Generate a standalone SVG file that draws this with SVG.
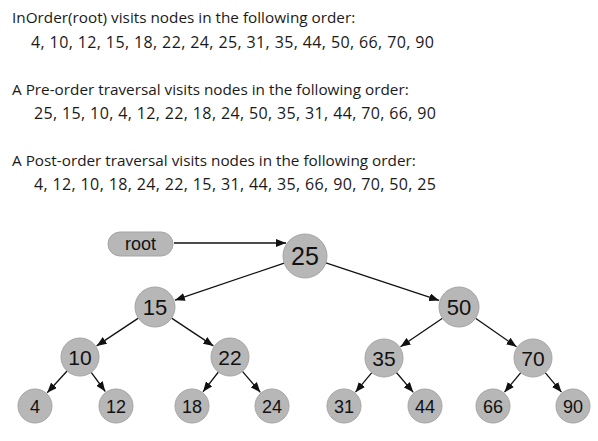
<svg xmlns="http://www.w3.org/2000/svg" width="598" height="441" viewBox="0 0 598 441">
<style>
.t{font-family:"Open Sans","Liberation Sans",sans-serif;font-size:15.3px;fill:#1a1a1a}
.v{font-family:"Open Sans","Liberation Sans",sans-serif;font-size:16px;fill:#1a1a1a}
.n{fill:#b7b7b7;stroke:#a5a5a5;stroke-width:1}
.l{font-family:"Liberation Sans",Arial,sans-serif;fill:#111;text-anchor:middle}
.e{stroke:#111;stroke-width:1.3;fill:none;marker-end:url(#ah)}
</style>
<defs>
<marker id="ah" markerUnits="userSpaceOnUse" markerWidth="10" markerHeight="8" refX="10" refY="4" orient="auto">
<path d="M0,0 L10,4 L0,8 Z" fill="#111"/>
</marker>
</defs>
<rect width="598" height="441" fill="#fff"/>
<g id="text">
<text class="t" x="12" y="23">InOrder(root) visits nodes in the following order:</text>
<text class="v" x="31" y="48" textLength="403" lengthAdjust="spacing">4, 10, 12, 15, 18, 22, 24, 25, 31, 35, 44, 50, 66, 70, 90</text>
<text class="t" x="12" y="95">A Pre-order traversal visits nodes in the following order:</text>
<text class="v" x="34" y="119" textLength="402" lengthAdjust="spacing">25, 15, 10, 4, 12, 22, 18, 24, 50, 35, 31, 44, 70, 66, 90</text>
<text class="t" x="12" y="166">A Post-order traversal visits nodes in the following order:</text>
<text class="v" x="34" y="190" textLength="402" lengthAdjust="spacing">4, 12, 10, 18, 24, 22, 15, 31, 44, 35, 66, 90, 70, 50, 25</text>
</g>
<g id="connectors">
<line class="e" x1="174" y1="243" x2="286" y2="243"/>
<line class="e" x1="284.2" y1="263.1" x2="174.9" y2="300.2"/>
<line class="e" x1="325.9" y1="262.9" x2="439.1" y2="300.4"/>
<line class="e" x1="138.4" y1="318.1" x2="96.6" y2="345.9"/>
<line class="e" x1="171.6" y1="318.1" x2="213.4" y2="345.9"/>
<line class="e" x1="442.5" y1="318.2" x2="400.5" y2="346.8"/>
<line class="e" x1="475.5" y1="318.3" x2="516.5" y2="346.7"/>
<line class="e" x1="67.1" y1="371" x2="47.2" y2="392.7"/>
<line class="e" x1="91.2" y1="372.3" x2="105.3" y2="391.5"/>
<line class="e" x1="218.4" y1="372" x2="203" y2="391.8"/>
<line class="e" x1="242.4" y1="371.4" x2="260.3" y2="392.3"/>
<line class="e" x1="371.8" y1="372.6" x2="355.5" y2="392.2"/>
<line class="e" x1="396.4" y1="372.5" x2="413.3" y2="392.3"/>
<line class="e" x1="520.8" y1="372.6" x2="504.5" y2="392.2"/>
<line class="e" x1="545.2" y1="372.6" x2="561.5" y2="392.2"/>
</g>
<g id="node-root"><rect class="n" x="108" y="232" width="65" height="24" rx="12"/><text class="l" x="140.5" y="250" font-size="18">root</text></g>
<g id="node-25"><circle class="n" cx="305" cy="256" r="22"/><text class="l" x="305" y="265" font-size="25">25</text></g>
<g id="node-15"><circle class="n" cx="155" cy="307" r="20"/><text class="l" x="155" y="315" font-size="22">15</text></g>
<g id="node-50"><circle class="n" cx="459" cy="307" r="20"/><text class="l" x="459" y="315" font-size="22">50</text></g>
<g id="node-10"><circle class="n" cx="80" cy="357" r="19"/><text class="l" x="80" y="364.5" font-size="21">10</text></g>
<g id="node-22"><circle class="n" cx="230" cy="357" r="19"/><text class="l" x="230" y="364.5" font-size="21">22</text></g>
<g id="node-35"><circle class="n" cx="384" cy="358" r="19"/><text class="l" x="384" y="365.5" font-size="21">35</text></g>
<g id="node-70"><circle class="n" cx="533" cy="358" r="19"/><text class="l" x="533" y="365.5" font-size="21">70</text></g>
<g id="node-4"><circle class="n" cx="35" cy="406" r="17"/><text class="l" x="35" y="412.5" font-size="18">4</text></g>
<g id="node-12"><circle class="n" cx="116" cy="406" r="17"/><text class="l" x="116" y="412.5" font-size="18">12</text></g>
<g id="node-18"><circle class="n" cx="192" cy="406" r="17"/><text class="l" x="192" y="412.5" font-size="18">18</text></g>
<g id="node-24"><circle class="n" cx="272" cy="406" r="17"/><text class="l" x="272" y="412.5" font-size="18">24</text></g>
<g id="node-31"><circle class="n" cx="344" cy="406" r="17"/><text class="l" x="344" y="412.5" font-size="18">31</text></g>
<g id="node-44"><circle class="n" cx="425" cy="406" r="17"/><text class="l" x="425" y="412.5" font-size="18">44</text></g>
<g id="node-66"><circle class="n" cx="493" cy="406" r="17"/><text class="l" x="493" y="412.5" font-size="18">66</text></g>
<g id="node-90"><circle class="n" cx="573" cy="406" r="17"/><text class="l" x="573" y="412.5" font-size="18">90</text></g>
</svg>
